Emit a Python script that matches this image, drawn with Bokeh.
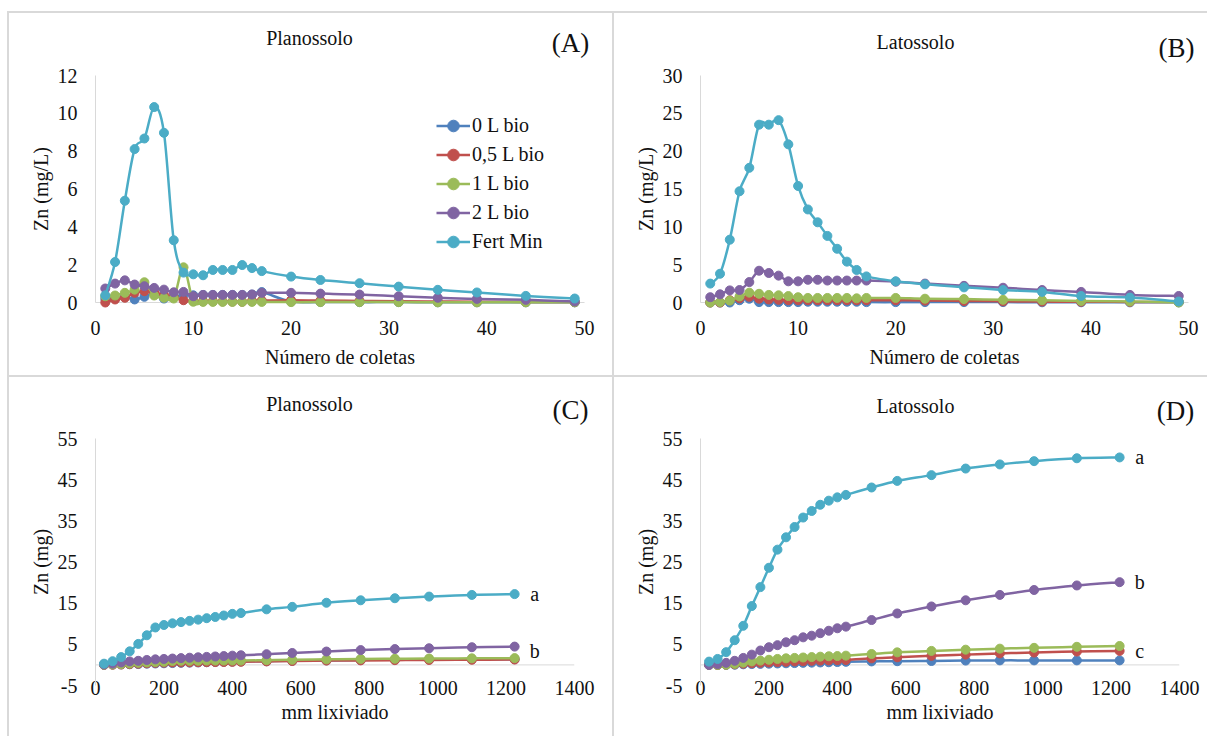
from bokeh.plotting import figure
from bokeh.models import (ColumnDataSource, FixedTicker, Range1d, Label, Legend,
                          LegendItem, Span, Spacer)
from bokeh.layouts import row, column
from bokeh.embed import file_html
from bokeh.resources import INLINE
from bokeh.core.properties import value

# ---------------- data ----------------
coletas = [1, 2, 3, 4, 5, 6, 7, 8, 9, 10, 11, 12, 13, 14, 15, 16, 17, 20, 23, 27, 31, 35, 39, 44, 49]
mm_lixiviado = [25, 50, 75, 100, 125, 150, 175, 200, 225, 250, 275, 300, 325, 350, 375, 400, 425,
                500, 575, 675, 775, 875, 975, 1100, 1225]

series_names = ["0 L bio", "0,5 L bio", "1 L bio", "2 L bio", "Fert Min"]
series_colors = ["#4F81BD", "#C0504D", "#9BBB59", "#8064A2", "#4BACC6"]

# (A) Planossolo, Zn (mg/L)
A_0L = [0.20, 0.22, 0.30, 0.16, 0.30, 0.50, 0.21, 0.30, 0.40, 0.38, 0.40, 0.40, 0.40, 0.40, 0.40, 0.42, 0.55,
        0.05, 0.03, 0.02, 0.02, 0.01, 0.01, 0.01, 0.01]
A_05L = [0.00, 0.16, 0.25, 0.51, 0.60, 0.55, 0.40, 0.30, 0.12, 0.08, 0.07, 0.07, 0.06, 0.05, 0.04, 0.08, 0.10,
         0.12, 0.10, 0.08, 0.06, 0.05, 0.04, 0.03, 0.02]
A_1L = [0.33, 0.37, 0.51, 0.68, 1.07, 0.37, 0.25, 0.21, 1.86, 0.04, 0.03, 0.03, 0.03, 0.03, 0.03, 0.03, 0.03,
        0.02, 0.02, 0.02, 0.02, 0.01, 0.01, 0.01, 0.01]
A_2L = [0.74, 1.00, 1.17, 0.95, 0.86, 0.77, 0.68, 0.54, 0.56, 0.33, 0.40, 0.40, 0.40, 0.40, 0.40, 0.42, 0.51,
        0.51, 0.47, 0.42, 0.33, 0.25, 0.19, 0.14, 0.05]
A_FM = [0.38, 2.14, 5.38, 8.11, 8.67, 10.33, 8.97, 3.29, 1.58, 1.49, 1.44, 1.72, 1.72, 1.72, 1.98, 1.82, 1.66,
        1.37, 1.19, 1.02, 0.84, 0.67, 0.53, 0.35, 0.21]

# (B) Latossolo, Zn (mg/L)
B_0L = [0.00, 0.00, 0.00, 0.30, 0.50, 0.05, 0.05, 0.05, 0.05, 0.05, 0.10, 0.10, 0.10, 0.10, 0.10, 0.10, 0.05,
        0.05, 0.05, 0.05, 0.05, 0.03, 0.03, 0.02, 0.02]
B_05L = [0.00, 0.00, 0.30, 0.55, 0.75, 0.50, 0.40, 0.35, 0.30, 0.30, 0.30, 0.30, 0.30, 0.30, 0.30, 0.30, 0.30,
         0.30, 0.25, 0.20, 0.15, 0.12, 0.10, 0.08, 0.05]
B_1L = [0.00, 0.05, 0.25, 0.80, 1.30, 1.15, 1.00, 0.95, 0.85, 0.70, 0.60, 0.60, 0.60, 0.60, 0.60, 0.55, 0.60,
        0.60, 0.50, 0.45, 0.35, 0.30, 0.20, 0.13, 0.00]
B_2L = [0.70, 1.08, 1.60, 1.65, 2.70, 4.20, 3.90, 3.55, 2.80, 2.80, 3.00, 3.00, 2.90, 2.90, 2.90, 2.90, 2.90,
        2.75, 2.50, 2.20, 1.95, 1.65, 1.40, 1.00, 0.86]
B_FM = [2.5, 3.8, 8.3, 14.7, 17.8, 23.5, 23.5, 24.1, 20.9, 15.4, 12.3, 10.6, 8.8, 7.1, 5.4, 4.3, 3.45,
        2.8, 2.4, 2.0, 1.65, 1.4, 0.86, 0.65, 0.13]

# (C) Planossolo, Zn (mg) acumulado
C_0L = [0.05, 0.10, 0.13, 0.16, 0.20, 0.30, 0.35, 0.40, 0.45, 0.50, 0.55, 0.60, 0.65, 0.70, 0.75, 0.80, 0.85,
        0.90, 1.00, 1.10, 1.20, 1.30, 1.35, 1.40, 1.40]
C_05L = [0.00, 0.05, 0.10, 0.20, 0.30, 0.40, 0.50, 0.55, 0.60, 0.62, 0.64, 0.66, 0.68, 0.70, 0.72, 0.74, 0.76,
         0.85, 0.95, 1.05, 1.10, 1.15, 1.20, 1.25, 1.30]
C_1L = [0.05, 0.10, 0.20, 0.35, 0.50, 0.60, 0.70, 0.75, 0.95, 1.00, 1.00, 1.00, 1.05, 1.05, 1.05, 1.05, 1.05,
        1.15, 1.25, 1.35, 1.45, 1.50, 1.55, 1.60, 1.65]
C_2L = [0.10, 0.30, 0.60, 0.85, 1.00, 1.20, 1.35, 1.45, 1.55, 1.65, 1.75, 1.85, 1.95, 2.05, 2.15, 2.25, 2.35,
        2.60, 2.90, 3.25, 3.60, 3.85, 4.05, 4.30, 4.45]
C_FM = [0.3, 0.9, 1.9, 3.3, 5.1, 7.2, 9.1, 9.7, 10.1, 10.4, 10.7, 11.0, 11.35, 11.65, 12.0, 12.4, 12.6,
        13.5, 14.1, 15.1, 15.7, 16.2, 16.6, 17.0, 17.2]

# (D) Latossolo, Zn (mg) acumulado
D_0L = [0.00, 0.00, 0.00, 0.05, 0.15, 0.20, 0.25, 0.30, 0.35, 0.40, 0.45, 0.50, 0.55, 0.60, 0.65, 0.70, 0.75,
        0.85, 0.90, 0.95, 1.05, 1.10, 1.10, 1.10, 1.10]
D_05L = [0.00, 0.00, 0.05, 0.15, 0.30, 0.40, 0.50, 0.60, 0.70, 0.75, 0.85, 0.90, 1.00, 1.05, 1.10, 1.15, 1.20,
         1.60, 1.85, 2.20, 2.50, 2.80, 3.00, 3.25, 3.40]
D_1L = [0.00, 0.00, 0.05, 0.25, 0.55, 0.85, 1.05, 1.25, 1.45, 1.60, 1.70, 1.80, 1.90, 2.00, 2.10, 2.15, 2.25,
        2.65, 3.05, 3.40, 3.70, 3.95, 4.15, 4.40, 4.60]
D_2L = [0.0, 0.2, 0.5, 1.0, 1.7, 2.5, 3.5, 4.3, 4.8, 5.5, 6.0, 6.7, 7.1, 7.7, 8.3, 8.9, 9.3,
        10.9, 12.5, 14.2, 15.7, 17.0, 18.2, 19.3, 20.1]
D_FM = [0.8, 1.45, 3.1, 6.0, 9.5, 14.3, 18.9, 23.6, 28.0, 31.0, 33.5, 35.8, 37.4, 38.9, 39.9, 40.7, 41.3,
        43.1, 44.7, 46.1, 47.7, 48.7, 49.5, 50.2, 50.4]

# letters of significance at the end of the curves (text, y value)
C_letters = [("a", 17.2), ("b", 3.3)]
D_letters = [("a", 50.4), ("b", 20.1), ("c", 3.4)]

ticks_coletas = [0, 10, 20, 30, 40, 50]
ticks_mm = [0, 200, 400, 600, 800, 1000, 1200, 1400]
ticks_A = [0, 2, 4, 6, 8, 10, 12]
ticks_B = [0, 5, 10, 15, 20, 25, 30]
ticks_CD = [-5, 5, 15, 25, 35, 45, 55]

# ---------------- style ----------------
FONT = "'Liberation Serif', serif"
GRAY = "#d9d9d9"
TXT = "#111111"


def bezier_source(xs, ys):
    """Smoothed line (Catmull-Rom as cubic Bezier), like Excel's smoothed lines."""
    n = len(xs)
    d = dict(x0=[], y0=[], x1=[], y1=[], cx0=[], cy0=[], cx1=[], cy1=[])
    for i in range(n - 1):
        a = max(i - 1, 0)
        b = min(i + 2, n - 1)
        d["x0"].append(xs[i]); d["y0"].append(ys[i])
        d["x1"].append(xs[i + 1]); d["y1"].append(ys[i + 1])
        d["cx0"].append(xs[i] + (xs[i + 1] - xs[a]) / 6.0)
        d["cy0"].append(ys[i] + (ys[i + 1] - ys[a]) / 6.0)
        d["cx1"].append(xs[i + 1] - (xs[b] - xs[i]) / 6.0)
        d["cy1"].append(ys[i + 1] - (ys[b] - ys[i]) / 6.0)
    return ColumnDataSource(d)


def make_panel(width, height, xr, yr, xticks, yticks, borders, xlabel, ylabel,
               xs, ys_list, title, letter, title_pos, letter_pos, zero_line=False,
               x_standoff=18, xlabel_standoff=8):
    bl, br, bt, bb = borders
    p = figure(width=width, height=height, x_range=Range1d(*xr), y_range=Range1d(*yr),
               output_backend="svg", toolbar_location=None,
               min_border_left=bl, min_border_right=br, min_border_top=bt, min_border_bottom=bb)
    p.outline_line_color = None
    p.grid.visible = False
    p.background_fill_color = "white"
    p.border_fill_color = "white"

    for ax in (p.xaxis[0], p.yaxis[0]):
        ax.major_tick_line_color = None
        ax.minor_tick_line_color = None
        ax.major_tick_out = 0
        ax.major_tick_in = 0
        ax.minor_tick_out = 0
        ax.minor_tick_in = 0
        ax.axis_line_color = GRAY
        ax.axis_line_width = 1
        ax.major_label_text_font = FONT
        ax.major_label_text_font_size = "20px"
        ax.major_label_text_color = TXT
        ax.axis_label_text_font = FONT
        ax.axis_label_text_font_size = "20px"
        ax.axis_label_text_font_style = "normal"
        ax.axis_label_text_color = TXT
    p.xaxis.ticker = FixedTicker(ticks=xticks)
    p.yaxis.ticker = FixedTicker(ticks=yticks)
    p.yaxis.major_label_overrides = {t: str(t) for t in yticks}
    p.xaxis.major_label_overrides = {t: str(t) for t in xticks}
    p.xaxis.axis_label = xlabel
    p.yaxis.axis_label = ylabel
    p.xaxis.major_label_standoff = x_standoff
    p.xaxis.axis_label_standoff = xlabel_standoff
    p.yaxis.major_label_standoff = 18
    p.yaxis.axis_label_standoff = 3

    if zero_line:
        p.xaxis.axis_line_color = None
        p.add_layout(Span(location=0, dimension="width", line_color=GRAY, line_width=1,
                          level="underlay"))

    rends = []
    for ys, name, col in zip(ys_list, series_names, series_colors):
        src = bezier_source(xs, ys)
        lr = p.bezier(x0="x0", y0="y0", x1="x1", y1="y1", cx0="cx0", cy0="cy0", cx1="cx1",
                      cy1="cy1", source=src, line_color=col, line_width=2.5, level="annotation")
        sr = p.scatter(xs, ys, size=9, marker="circle", fill_color=col, line_color=col,
                       level="annotation")
        rends.append((name, lr, sr))

    # panel title and panel letter, placed above the plot frame (frame pixel offsets)
    fw = width - bl - br
    fh = height - bt - bb

    def to_data(pos):
        dx, dy = pos
        return (xr[0] + dx * (xr[1] - xr[0]) / fw, yr[0] + dy * (yr[1] - yr[0]) / fh)

    tx, ty = to_data(title_pos)
    lx, ly = to_data(letter_pos)
    p.text(x=[tx], y=[ty], text=[title], text_font=value(FONT), text_font_size=value("20px"),
           text_color=TXT, text_align="center", text_baseline="middle", level="overlay")
    p.text(x=[lx], y=[ly], text=[letter], text_font=value(FONT), text_font_size=value("27px"),
           text_color=TXT, text_align="center", text_baseline="middle", level="overlay")
    return p, rends


GA = [A_0L, A_05L, A_1L, A_2L, A_FM]
GB = [B_0L, B_05L, B_1L, B_2L, B_FM]
GC = [C_0L, C_05L, C_1L, C_2L, C_FM]
GD = [D_0L, D_05L, D_1L, D_2L, D_FM]

pA, rA = make_panel(603, 362, (0, 50), (0, 12), ticks_coletas, ticks_A, (86, 28, 62, 72),
                    "Número de coletas", "Zn (mg/L)", coletas, GA, "Planossolo", "(A)",
                    (214, 266), (475, 261))
pB, rB = make_panel(593, 362, (0, 50), (0, 30), ticks_coletas, ticks_B, (86, 19, 57, 73),
                    "Número de coletas", "Zn (mg/L)", coletas, GB, "Latossolo", "(B)",
                    (215, 266), (476, 260))
pC, rC = make_panel(603, 359, (0, 1400), (-5, 55), ticks_mm, ticks_CD, (86, 38, 61, 51),
                    "mm lixiviado", "Zn (mg)", mm_lixiviado, GC, "Planossolo", "(C)",
                    (214, 282), (475, 276), zero_line=True, x_standoff=-5, xlabel_standoff=3)
pD, rD = make_panel(593, 359, (0, 1400), (-5, 55), ticks_mm, ticks_CD, (86, 28, 60, 51),
                    "mm lixiviado", "Zn (mg)", mm_lixiviado, GD, "Latossolo", "(D)",
                    (215, 281), (475, 276), zero_line=True, x_standoff=-5, xlabel_standoff=3)

legend = Legend(items=[LegendItem(label=n, renderers=[lr, sr]) for n, lr, sr in rA],
                location=(341, 46), padding=0, spacing=0, margin=0,
                glyph_width=34, glyph_height=29, label_height=29, label_standoff=2,
                label_text_font=FONT, label_text_font_size="20px", label_text_color=TXT,
                border_line_color=None, background_fill_alpha=0)
pA.add_layout(legend, "center")

for p, letters in ((pC, C_letters), (pD, D_letters)):
    for txt, yv in letters:
        p.add_layout(Label(x=mm_lixiviado[-1], y=yv, x_offset=20, text=txt, text_font=FONT,
                           text_font_size="20px", text_color=TXT, text_align="center",
                           text_baseline="middle"))


def hline(w):
    return Spacer(width=w, height=2, styles={"background-color": GRAY})


def vline(h):
    return Spacer(width=2, height=h, styles={"background-color": GRAY})


def blank(w, h):
    return Spacer(width=w, height=h)


root = column(
    blank(1207, 11),
    row(blank(7, 2), hline(1200)),
    row(blank(7, 362), vline(362), pA, vline(362), pB),
    row(blank(7, 2), vline(2), hline(603), vline(2), hline(593)),
    row(blank(7, 359), vline(359), pC, vline(359), pD),
)

open("out.html", "w").write(file_html(root, INLINE))
